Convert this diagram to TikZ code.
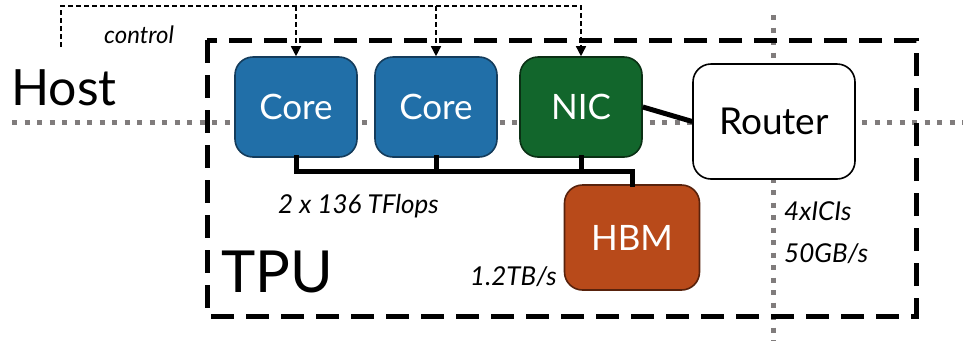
\documentclass[tikz,border=0pt]{standalone}
\usepackage{fontspec}
\setmainfont{Lato}
\usetikzlibrary{arrows.meta,positioning}

\definecolor{corefill}{RGB}{33,111,168}
\definecolor{coreline}{RGB}{20,60,92}
\definecolor{nicfill}{RGB}{18,102,44}
\definecolor{nicline}{RGB}{10,48,20}
\definecolor{hbmfill}{RGB}{184,74,26}
\definecolor{hbmline}{RGB}{88,34,12}
\definecolor{dotgray}{RGB}{128,124,124}

\begin{document}
\begin{tikzpicture}[x=1pt, y=-1pt,
  unit/.style={rounded corners=18pt, line width=1.6pt, minimum width=122pt, minimum height=100pt,
    text=white, font=\fontsize{35}{40}\selectfont},
  core/.style={unit, fill=corefill, draw=coreline},
  lbl/.style={anchor=base west, inner sep=0pt, font=\fontsize{26}{30}\selectfont\itshape},
  bus/.style={line width=5pt, line cap=rect},
  ctrl/.style={line width=1.5pt, dash pattern=on 5pt off 3pt},
  dots/.style={dotgray, line width=5pt, dash pattern=on 5pt off 7.5pt}]
  \useasboundingbox (0,0) rectangle (963,341);

  % Grey dotted cross
  \coordinate (hl) at (12,122);
  \coordinate (hr) at (963,122);
  \coordinate (vt) at (773,15);
  \coordinate (vb) at (773,341);
  \draw[dots] (hl) -- (hr);
  \draw[dots] (vt) -- (vb);

  % TPU chip outline
  \draw[line width=5pt, dash pattern=on 23pt off 12pt] (207,40) rectangle (916,316);

  % Units
  \node[core] (core1) at (296,107) {Core};
  \node[core] (core2) at (436,107) {Core};
  \node[unit, fill=nicfill, draw=nicline] (nic) at (581,107) {NIC};
  \node[unit, fill=hbmfill, draw=hbmline, minimum width=135pt, minimum height=105pt] (hbm) at (632,237.5) {HBM};
  \node[unit, fill=white, draw=black, text=black, minimum width=162pt, minimum height=115pt,
    font=\fontsize{37}{42}\selectfont] (router) at (774,121.5) {Router};

  % Labels
  \node[anchor=base west, inner sep=0pt, font=\fontsize{50}{56}\selectfont] (host) at (11,105) {Host};
  \node[anchor=base west, inner sep=0pt, font=\fontsize{58}{64}\selectfont] (tpu) at (221,292) {TPU};
  \node[lbl, font=\fontsize{24}{28}\selectfont\itshape] (ctl) at (104,43) {control};
  \node[lbl] (flops) at (278,213) {2 x 136 TFlops};
  \node[lbl] (hbmbw) at (470,285) {1.2TB/s};
  \node[lbl] (icis) at (784,220) {4xICIs};
  \node[lbl] (icibw) at (784,262) {50GB/s};

  % Memory bus
  \draw[bus] (core1.south) -- ++(0,14) coordinate (busl) -| (hbm.north);
  \foreach \n in {core2,nic} {
    \draw[bus] (\n.south) -- (\n.south |- busl);
  }
  \draw[bus, line cap=butt] (nic.east) -- (router.west);

  % Host control
  \coordinate (hostc) at (61,47);
  \coordinate (ctop) at (61,6);
  \draw[ctrl, -{Triangle[length=10pt, width=10pt]}] (hostc) -- (ctop) -| (nic.north);
  \foreach \n in {core1,core2} {
    \draw[ctrl, -{Triangle[length=10pt, width=10pt]}] (\n.north |- ctop) -- (\n.north);
  }
\end{tikzpicture}
\end{document}
